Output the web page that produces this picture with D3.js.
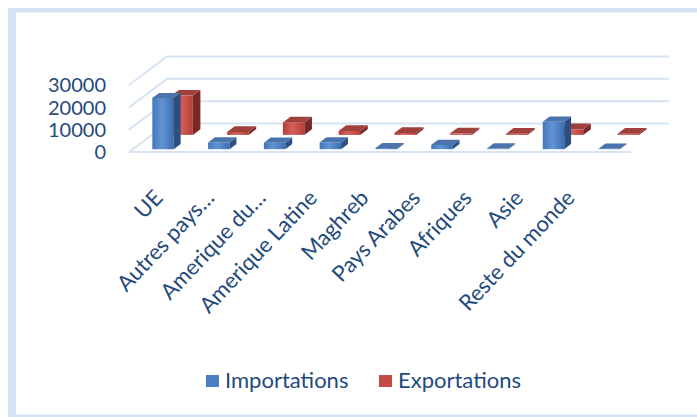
<!DOCTYPE html>
<html><head><meta charset="utf-8">
<script src="https://cdn.jsdelivr.net/npm/d3@7"></script>
<style>html,body{margin:0;padding:0;background:#fff;}svg{display:block;}</style>
</head><body>
<script>
const categories = ["UE","Autres pays…","Amerique du…","Amerique Latine","Maghreb","Pays Arabes","Afriques","Asie","Reste du monde"];
const importations = [22900, 3000, 2900, 3000, 500, 1900, 300, 12300, 200];
const exportations = [17600, 1300, 5600, 1800, 900, 700, 500, 2500, 500];
const yTicks = [0, 10000, 20000, 30000];
const seriesNames = ["Importations","Exportations"];

const W = 697, H = 417;
const svg = d3.select("body").append("svg").attr("width", W).attr("height", H);
const textColor = "#1f4a7c";
const gridColor = "#d5e3f4";
const font = "Lato, 'Open Sans', sans-serif";

// frame
svg.append("rect").attr("x",8).attr("y",8).attr("width",8).attr("height",409).attr("fill",gridColor);
svg.append("rect").attr("x",8).attr("y",8).attr("width",689).attr("height",4.5).attr("fill",gridColor);
svg.append("rect").attr("x",8).attr("y",414.5).attr("width",689).attr("height",3).attr("fill",gridColor);

const X0 = 129, X1 = 631, DX = 38, DY = -28.5;
const x = d3.scaleBand().domain(categories).range([X0, X1]);
const y = d3.scaleLinear().domain([0, 30000]).range([152, 85]);
const P = (px, v, d) => [px + DX*d, y(v) + DY*d];

const defs = svg.append("defs");
function grad(id, stops){
  const g = defs.append("linearGradient").attr("id", id).attr("x1","0").attr("x2","1").attr("y1","0").attr("y2","0");
  stops.forEach(([o,c]) => g.append("stop").attr("offset", o).attr("stop-color", c));
}
grad("gBlue", [[0,"#4277bd"],[0.45,"#6393d3"],[1,"#3b6db1"]]);
grad("gRed", [[0,"#b8403c"],[0.45,"#d35f5b"],[1,"#b63f3b"]]);

// back wall gridlines + left diagonals
const grid = svg.append("g").attr("stroke", gridColor).attr("stroke-width", 2).attr("fill","none");
yTicks.forEach(t => {
  const a = P(X0, t, 0), b = P(X0, t, 1), c = P(X1, t, 1);
  grid.append("polyline").attr("points", [a,b,c].map(p=>p.join(",")).join(" "));
});
// floor front edge
grid.append("line").attr("x1", X0).attr("x2", X1).attr("y1", y(0)).attr("y2", y(0));

// tick labels (front plane)
svg.append("g").selectAll("text").data(yTicks).join("text")
  .attr("x", 106).attr("y", d => y(d)).attr("dy","0.36em")
  .attr("text-anchor","end").attr("font-family", font).attr("font-size", 20)
  .attr("fill", textColor).text(d => d);

// bars
const series = [
  {name:"Exportations", values: exportations, d0:0.6, d1:0.8, front:"url(#gRed)", side:"#7b2725", top:"#a0403d"},
  {name:"Importations", values: importations, d0:0.1, d1:0.28, front:"url(#gBlue)", side:"#2c4e80", top:"#4a74ab"}
];
const bw = x.bandwidth();
series.forEach(s => {
  const g = svg.append("g");
  categories.forEach((c, i) => {
    const v = s.values[i];
    const xa = x(c) + bw*0.35, xb = xa + bw*0.385;
    const pts = arr => arr.map(p=>p.join(",")).join(" ");
    g.append("polygon").attr("points", pts([P(xa,0,s.d0),P(xb,0,s.d0),P(xb,v,s.d0),P(xa,v,s.d0)])).attr("fill", s.front);
    g.append("polygon").attr("points", pts([P(xb,0,s.d0),P(xb,0,s.d1),P(xb,v,s.d1),P(xb,v,s.d0)])).attr("fill", s.side);
    g.append("polygon").attr("points", pts([P(xa,v,s.d0),P(xb,v,s.d0),P(xb,v,s.d1),P(xa,v,s.d1)])).attr("fill", s.top);
  });
});

// category labels
const lx = d3.scalePoint().domain(categories).range([164, 164 + 51.5*8]);
svg.append("g").selectAll("text").data(categories).join("text")
  .attr("transform", d => `translate(${lx(d)},199) rotate(-46.5)`)
  .attr("text-anchor","end").attr("font-family", font).attr("font-size", 22)
  .attr("fill", textColor).text(d => d);

// legend
const leg = svg.append("g");
const legItems = [
  {name: seriesNames[0], color:"#4a7fc4", x:206},
  {name: seriesNames[1], color:"#c44a46", x:379}
];
legItems.forEach(it => {
  leg.append("rect").attr("x", it.x).attr("y", 375).attr("width", 13).attr("height", 12).attr("fill", it.color);
  leg.append("text").attr("x", it.x + 19).attr("y", 388).attr("font-family", font).attr("font-size", 22)
    .attr("fill", textColor).text(it.name);
});
</script>
</body></html>
